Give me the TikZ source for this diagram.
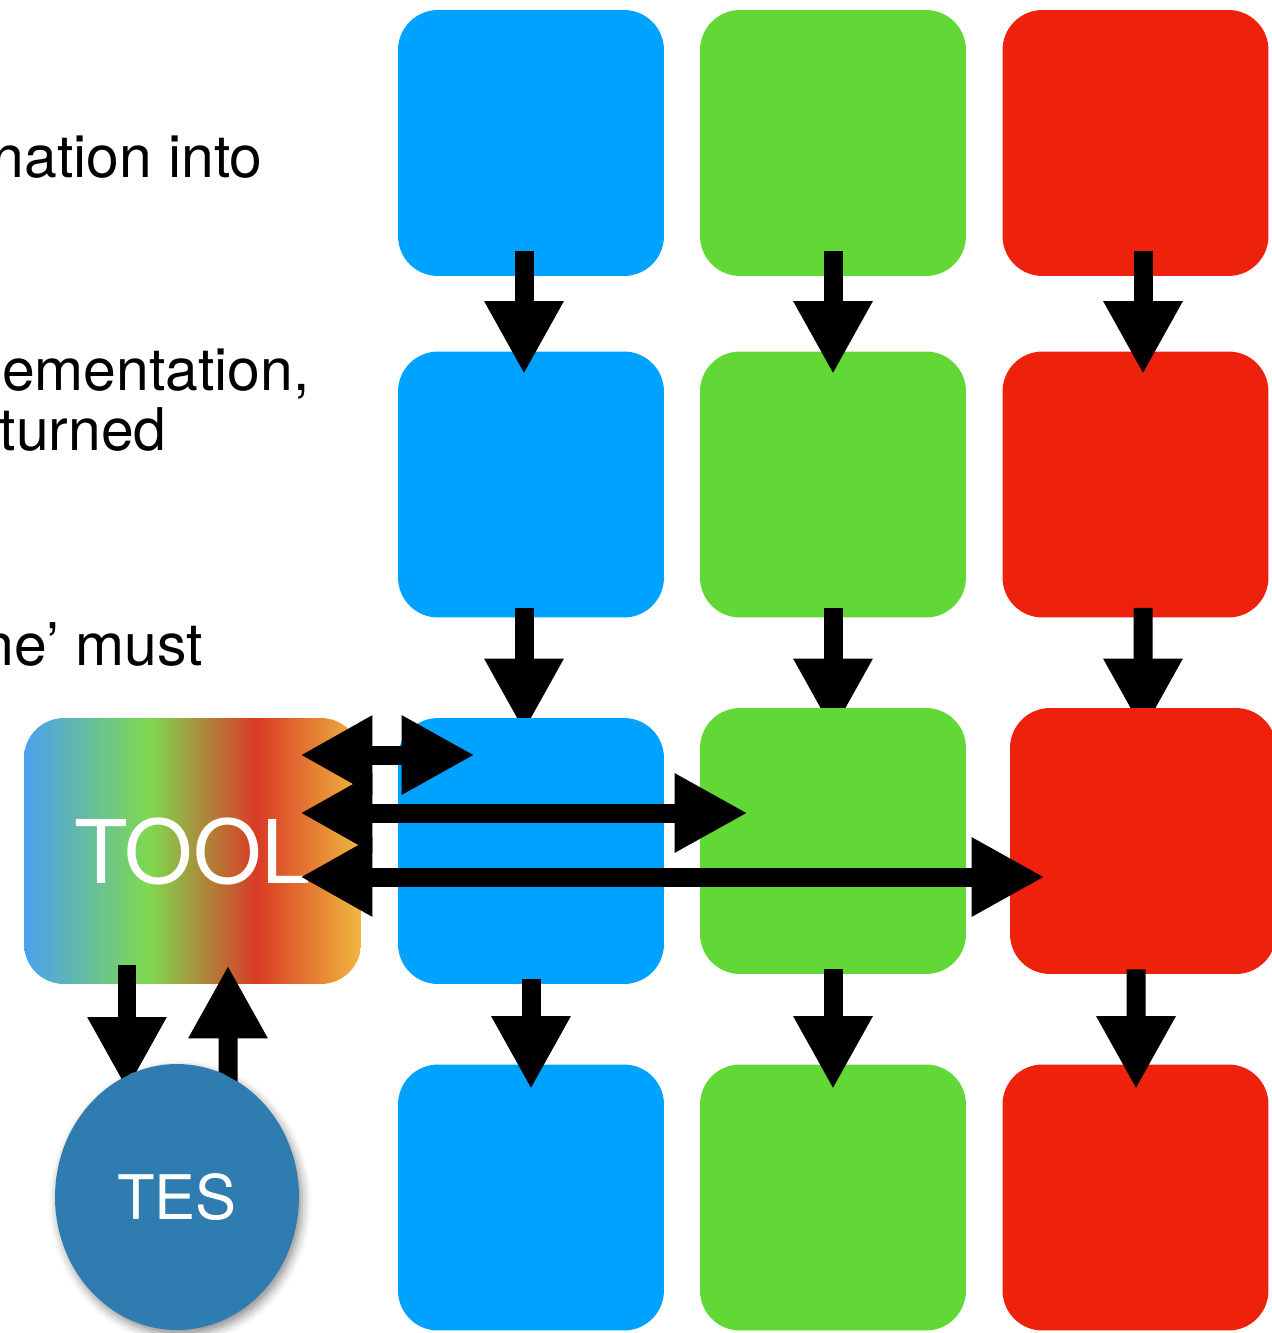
\documentclass[tikz,border=0pt]{standalone}
\usepackage{fontspec}
\setmainfont{TeX Gyre Heros}
\usetikzlibrary{arrows.meta,calc,shapes.geometric,shadows.blur}

\definecolor{cblue}{RGB}{0,162,255}
\definecolor{cgreen}{RGB}{97,216,54}
\definecolor{cred}{RGB}{238,34,12}
\definecolor{tesblue}{RGB}{46,124,176}

% blue -> green -> red -> amber across the tool box
\pgfdeclarehorizontalshading{toolgrad}{100bp}{%
  rgb(0bp)=(0.29,0.63,0.94);
  rgb(25bp)=(0.29,0.63,0.94);
  rgb(43.5bp)=(0.50,0.85,0.31);
  rgb(59.5bp)=(0.85,0.23,0.15);
  rgb(75bp)=(0.94,0.72,0.25);
  rgb(100bp)=(0.94,0.72,0.25)}

\begin{document}
\begin{tikzpicture}[x=0.02cm,y=-0.02cm,
  box/.style={rectangle, rounded corners=0.8cm, minimum width=5.32cm,
    minimum height=5.32cm, inner sep=0pt, draw=none},
  bigarrow/.style={line width=0.38cm, -{Triangle[length=1.46cm,width=1.48cm]}},
  duoarrow/.style={line width=0.38cm,
    {Triangle[length=1.44cm,width=1.48cm]}-{Triangle[length=1.46cm,width=1.48cm]}},
  fragment/.style={anchor=base east, inner sep=0pt,
    font=\fontsize{33.5}{40}\selectfont}]

\useasboundingbox (0,0) rectangle (1272,1333);

% the grid of stages
\node[box, fill=cblue]  (b11) at (531,143) {};
\node[box, fill=cgreen] (b12) at (833,143) {};
\node[box, fill=cred]   (b13) at (1135.5,143) {};
\node[box, fill=cblue]  (b21) at (531,484.5) {};
\node[box, fill=cgreen] (b22) at (833,484.5) {};
\node[box, fill=cred]   (b23) at (1135.5,484.5) {};
\node[box, fill=cblue]  (b31) at (531,851) {};
\node[box, fill=cgreen] (b32) at (833,841) {};
\node[box, fill=cred]   (b33) at (1143,841) {};
\node[box, fill=cblue]  (b41) at (531,1197.5) {};
\node[box, fill=cgreen] (b42) at (833,1197.5) {};
\node[box, fill=cred]   (b43) at (1135.5,1197.5) {};

% first-to-second row arrows
\draw[bigarrow] ($(b11.south)+(-7,-25)$) -- ($(b21.north)+(-7,23)$);
\draw[bigarrow] ($(b12.south)+(0,-25)$) -- ($(b22.north)+(0,23)$);
\draw[bigarrow] ($(b13.south)+(7.5,-25)$) -- ($(b23.north)+(7.5,23)$);

% second-to-third row arrows: their tips slide under the third-row boxes
\begin{scope}
  \clip (b21.north west) rectangle (b31.north east);
  \draw[bigarrow] ($(b21.south)+(-7,-10)$) -- ($(b31.north)+(-7,14)$);
\end{scope}
\begin{scope}
  \clip (b22.north west) rectangle (b32.north east);
  \draw[bigarrow] ($(b22.south)+(0,-10)$) -- ($(b32.north)+(0,24)$);
\end{scope}
\begin{scope}
  \clip (b23.north west) rectangle (b33.north east);
  \draw[bigarrow] ($(b23.south)+(7.5,-10)$) -- ($(b33.north)+(0,24)$);
\end{scope}

% third-to-fourth row arrows
\draw[bigarrow] ($(b31.south)+(0,-5)$) -- ($(b41.north)+(0,25)$);
\draw[bigarrow] ($(b32.south)+(0,-5)$) -- ($(b42.north)+(0,25)$);
\draw[bigarrow] ($(b33.south)+(-7,-5)$) -- ($(b43.north)+(0.5,25)$);

% the tool
\node[box, minimum width=6.74cm, shade, shading=toolgrad, text=white,
  font=\fontsize{50}{60}\selectfont] (tool) at (192.5,851) {TOOL};

% links from the tool into the third row
\draw[duoarrow] ($(tool.east)+(-61,-96)$) -- ($(b31.west)+(77,-96)$);
\draw[duoarrow] ($(tool.east)+(-61,-38)$) -- ($(b32.west)+(48,-28)$);
\draw[duoarrow] ($(tool.east)+(-61,26)$) -- ($(b33.west)+(35,36)$);

% the test engine
\node[ellipse, minimum width=4.88cm, minimum height=5.32cm, inner sep=0pt,
  fill=tesblue, text=white, font=\fontsize{35}{40}\selectfont,
  blur shadow={shadow xshift=0.06cm, shadow yshift=-0.1cm,
    shadow blur radius=0.18cm, shadow opacity=45}] (tes) at (177,1197) {TES};

% exchange between the tool and TES, kept outside the disc
\begin{scope}
  \clip (tes.180) -- (tes.170) -- (tes.160) -- (tes.150) -- (tes.140)
    -- (tes.130) -- (tes.120) -- (tes.110) -- (tes.100) -- (tes.90)
    -- (tes.80) -- (tes.70) -- (tes.60) -- (tes.50) -- (tes.40)
    -- (tes.30) -- (tes.20) -- (tes.10) -- (tes.0)
    -- ($(tes.0)+(0,-320)$) -- ($(tes.180)+(0,-320)$) -- cycle;
  \draw[bigarrow] ($(tool.south)+(-65.5,-19)$) -- ($(tes.center)+(-50,-107)$);
  \draw[bigarrow] ($(tes.center)+(51,-87)$) -- ($(tool.south)+(35.5,-19)$);
\end{scope}

% ends of the text lines that run in from the left
\node[fragment] (t1) at (263,177) {nation into};
\node[fragment] (t2) at (310,390) {ementation,};
\node[fragment] (t3) at (167,450) {turned};
\node[fragment] (t4) at (203,665) {ne’ must};
\end{tikzpicture}
\end{document}
